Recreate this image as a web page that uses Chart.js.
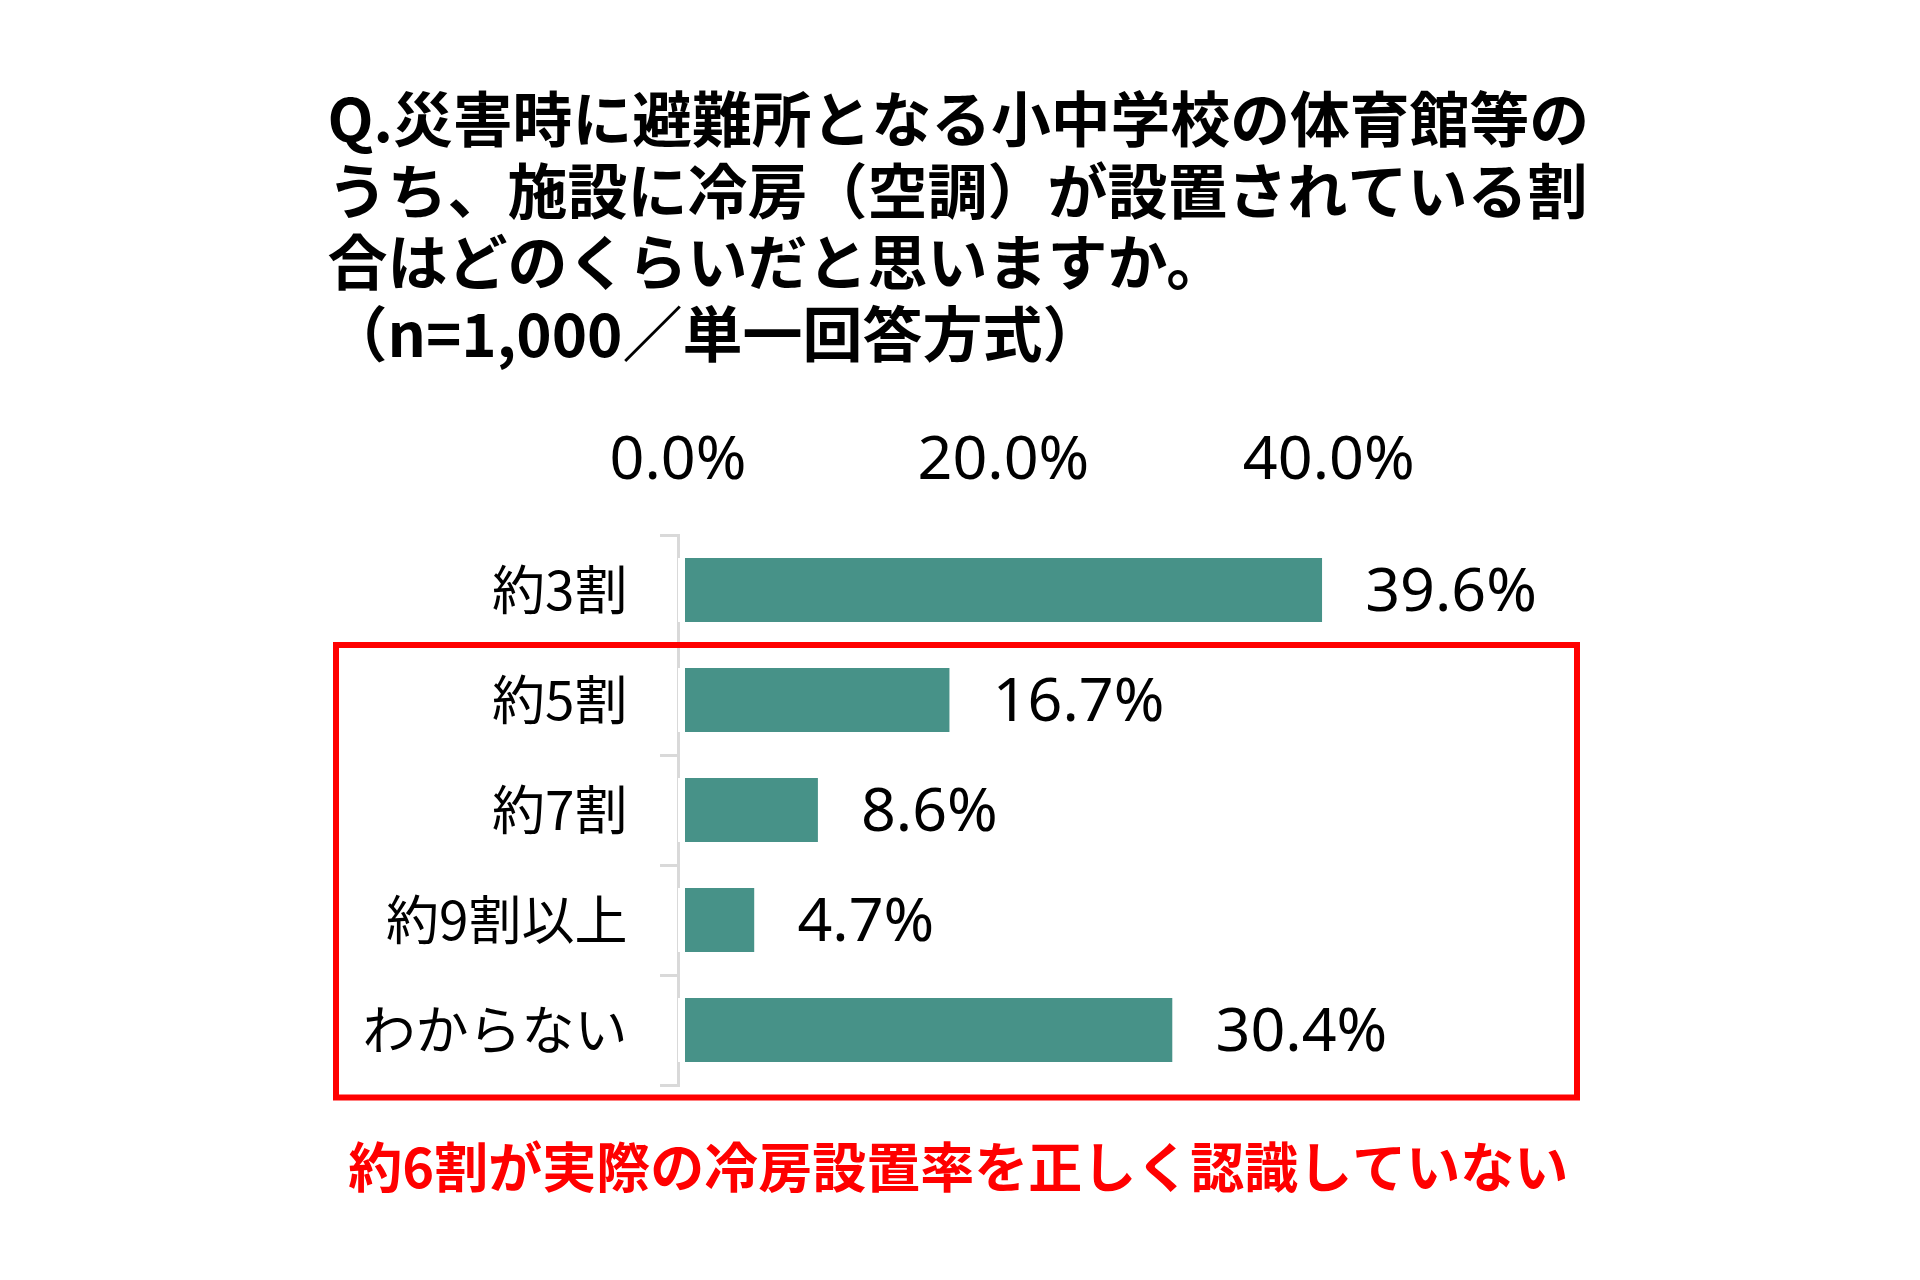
<!DOCTYPE html>
<html>
<head>
<meta charset="utf-8">
<script src="https://cdn.jsdelivr.net/npm/chart.js@4/dist/chart.umd.min.js"></script>
<style>
html,body{margin:0;padding:0;background:#fff;}
#wrap{width:1920px;height:1280px;}
</style>
</head>
<body>
<div id="wrap"><canvas id="c" width="1920" height="1280"></canvas></div>
<script>
const categories = ['約3割', '約5割', '約7割', '約9割以上', 'わからない'];
const values = [39.6, 16.7, 8.6, 4.7, 30.4];
const tickValues = [0, 20, 40];
const titleLines = [
  'Q.災害時に避難所となる小中学校の体育館等の',
  'うち、施設に冷房（空調）が設置されている割',
  '合はどのくらいだと思いますか。',
  '（n=1,000／単一回答方式）'
];
const caption = '約6割が実際の冷房設置率を正しく認識していない';

const JP = '"Noto Sans CJK JP", "Noto Sans", sans-serif';
const NUM = '"Noto Sans", "Noto Sans CJK JP", sans-serif';

const extras = {
  id: 'extras',
  afterDraw(chart) {
    const ctx = chart.ctx;
    const meta = chart.getDatasetMeta(0);
    ctx.save();
    ctx.font = '61px ' + NUM;
    ctx.fillStyle = '#000000';
    ctx.textAlign = 'left';
    ctx.textBaseline = 'middle';
    meta.data.forEach((bar, i) => {
      ctx.fillText(values[i].toFixed(1) + '%', bar.x + 43, bar.y + 4);
    });
    // red highlight box
    const ys = chart.scales.y;
    const boundary = (ys.getPixelForValue(0) + ys.getPixelForValue(1)) / 2;
    const area = chart.chartArea;
    const top = boundary;
    const bottom = area.bottom + 12.5;
    ctx.strokeStyle = '#FF0000';
    ctx.lineWidth = 6;
    ctx.strokeRect(336, top, 1577 - 336, bottom - top);
    ctx.restore();
  }
};

new Chart(document.getElementById('c'), {
  type: 'bar',
  data: {
    labels: categories,
    datasets: [{
      data: values,
      backgroundColor: '#479288',
      borderColor: '#FFFFFF',
      borderSkipped: false,
      borderWidth: { left: 7, right: 0, top: 0, bottom: 0 },
      categoryPercentage: 1.0,
      barPercentage: 0.58
    }]
  },
  options: {
    indexAxis: 'y',
    responsive: false,
    animation: false,
    devicePixelRatio: 1,
    layout: { padding: { left: 327.5, right: 331, top: 0, bottom: 80.6 } },
    plugins: {
      legend: { display: false },
      tooltip: { enabled: false },
      title: {
        display: true,
        text: titleLines,
        align: 'start',
        color: '#000000',
        font: { family: JP, size: 60, weight: 'bold', lineHeight: 1.19 },
        padding: { top: 84, bottom: 0 }
      },
      subtitle: {
        display: true,
        position: 'bottom',
        text: caption,
        align: 'center',
        color: '#FF0000',
        font: { family: JP, size: 54, weight: 'bold', lineHeight: 1.2 },
        padding: { top: 49.6, bottom: 0 }
      }
    },
    scales: {
      x: {
        position: 'top',
        min: 0,
        max: 56,
        afterBuildTicks(scale) {
          scale.ticks = tickValues.map(v => ({ value: v }));
        },
        afterFit(scale) { scale.height = 165.4; },
        grid: { display: false, drawTicks: false },
        border: { display: false },
        ticks: {
          padding: 37,
          color: '#000000',
          font: { family: NUM, size: 61 },
          callback: v => Number(v).toFixed(1) + '%'
        }
      },
      y: {
        z: 1,
        afterFit(scale) { scale.width = 678 - 327.5; },
        grid: {
          display: true,
          drawOnChartArea: false,
          drawTicks: true,
          tickLength: 18,
          offset: true,
          color: '#D9D9D9',
          lineWidth: 3
        },
        border: { display: true, color: '#D9D9D9', width: 3 },
        ticks: {
          padding: 32.5,
          color: '#000000',
          font: { family: JP, size: 53 }
        }
      }
    }
  },
  plugins: [extras]
});
</script>
</body>
</html>
